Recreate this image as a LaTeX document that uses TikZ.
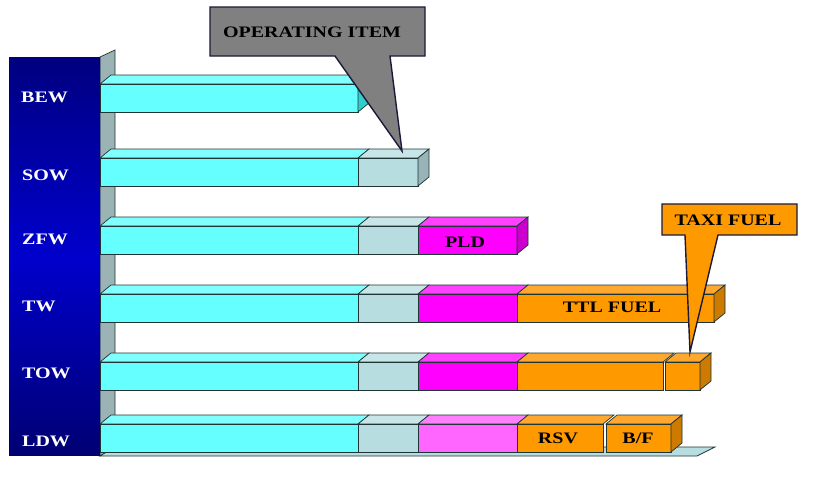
\documentclass[tikz,border=0pt]{standalone}
\usepackage{fontspec}
\newfontfamily\chartfont[FakeStretch=1.25]{Liberation Serif}

\definecolor{edgecol}{HTML}{1F3535}
\definecolor{cyanfront}{HTML}{66FFFF}
\definecolor{cyantop}{HTML}{80FFFF}
\definecolor{cyanside}{HTML}{33CCCC}
\definecolor{icefront}{HTML}{B8DDE0}
\definecolor{icetop}{HTML}{C8E6E8}
\definecolor{iceside}{HTML}{98B4B8}
\definecolor{magfront}{HTML}{FF00FF}
\definecolor{magtop}{HTML}{FF40FF}
\definecolor{magside}{HTML}{CC00CC}
\definecolor{pinkfront}{HTML}{FF66FF}
\definecolor{pinktop}{HTML}{FF80FF}
\definecolor{orgfront}{HTML}{FF9900}
\definecolor{orgtop}{HTML}{FFA830}
\definecolor{orgside}{HTML}{CC7A00}
\definecolor{wallcol}{HTML}{9BB3B5}
\definecolor{calloutedge}{HTML}{1A1A3A}

% one block of a bar: from x #1 to x #2, top of front at y #3
\newcommand{\blk}[5]{%
  \filldraw[fill=#5, edge] (#1,#3) -- ++(11,-9) -- (#2+11,#3-9) -- (#2,#3) -- cycle;
  \filldraw[fill=#4, edge] (#1,#3) rectangle (#2,#3+28);
}
% right end face of a bar
\newcommand{\blkend}[3]{%
  \filldraw[fill=#3, edge] (#1,#2) -- ++(11,-9) -- ++(0,28) -- ++(-11,9) -- cycle;
}

\begin{document}
\begin{tikzpicture}[x=1pt, y=-1pt,
    edge/.style = {draw=edgecol, line width=0.7pt},
    rowlbl/.style = {anchor=west, text=white, inner sep=0pt, font=\chartfont\bfseries\fontsize{16}{18}\selectfont},
    seglbl/.style = {inner sep=0pt, font=\chartfont\bfseries\fontsize{16}{18}\selectfont},
    callout/.style = {draw=calloutedge, line width=1.4pt, line join=miter}]
    \useasboundingbox[fill=white] (0,0) rectangle (815,479);

    % back wall and floor
    \filldraw[fill=wallcol, edge] (100,57) -- (115,50) -- (115,447) -- (100,456) -- cycle;
    \filldraw[fill=icefront, edge] (100,456) -- (115,447) -- (715,447) -- (697,456) -- cycle;

    % side panel
    \shade[top color=blue!50!black, bottom color=blue!45!black, middle color=blue!80!black] (9,57) rectangle (100,455);

    % BEW
    \blk{100}{358}{84}{cyanfront}{cyantop}
    \blkend{358}{84}{cyanside}
    % SOW
    \blk{100}{358}{158}{cyanfront}{cyantop}
    \blk{358}{418}{158}{icefront}{icetop}
    \blkend{418}{158}{iceside}
    % ZFW
    \blk{100}{358}{226}{cyanfront}{cyantop}
    \blk{358}{418}{226}{icefront}{icetop}
    \blk{418}{517}{226}{magfront}{magtop}
    \blkend{517}{226}{magside}
    % TW
    \blk{100}{358}{294}{cyanfront}{cyantop}
    \blk{358}{418}{294}{icefront}{icetop}
    \blk{418}{517}{294}{magfront}{magtop}
    \blk{517}{714}{294}{orgfront}{orgtop}
    \blkend{714}{294}{orgside}
    % TOW
    \blk{100}{358}{362}{cyanfront}{cyantop}
    \blk{358}{418}{362}{icefront}{icetop}
    \blk{418}{517}{362}{magfront}{magtop}
    \blk{517}{663}{362}{orgfront}{orgtop}
    \blk{665}{700}{362}{orgfront}{orgtop}
    \blkend{700}{362}{orgside}
    % LDW
    \blk{100}{358}{424}{cyanfront}{cyantop}
    \blk{358}{418}{424}{icefront}{icetop}
    \blk{418}{517}{424}{pinkfront}{pinktop}
    \blk{517}{603}{424}{orgfront}{orgtop}
    \blk{606}{671}{424}{orgfront}{orgtop}
    \blkend{671}{424}{orgside}

    % row labels
    \node[rowlbl] (bew) at (21,97) {BEW};
    \node[rowlbl] (sow) at (22,175) {SOW};
    \node[rowlbl] (zfw) at (22,239) {ZFW};
    \node[rowlbl] (tw) at (22,306) {TW};
    \node[rowlbl] (tow) at (22,373) {TOW};
    \node[rowlbl] (ldw) at (22,441) {LDW};

    % block labels
    \node[seglbl] (pld) at (465,242) {PLD};
    \node[seglbl] (ttl) at (612,307) {TTL FUEL};
    \node[seglbl] (rsv) at (558,438) {RSV};
    \node[seglbl] (bf) at (638,438) {B/F};

    % callouts
    \filldraw[callout, fill=gray] (210,7) -- (425,7) -- (425,56) -- (390,56) -- (402,151) -- (335,56) -- (210,56) -- cycle;
    \node[seglbl] (opitem) at (312,32) {OPERATING ITEM};
    \filldraw[callout, fill=orgfront] (662,204) -- (797,204) -- (797,235) -- (718,235) -- (690,352) -- (685,235) -- (662,235) -- cycle;
    \node[seglbl] (taxi) at (728,220) {TAXI FUEL};

\end{tikzpicture}
\end{document}
